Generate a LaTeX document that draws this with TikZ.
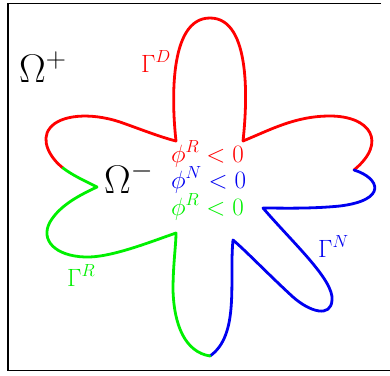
\RequirePackage{fix-cm}
\documentclass[tikz,border=0pt]{standalone}
\definecolor{cred}{RGB}{255,0,0}
\definecolor{cgreen}{RGB}{0,240,0}
\definecolor{cblue}{RGB}{0,0,240}
\tikzset{
  bnd/.style={line width=2.8pt, line join=round, line cap=round},
  lab/.style={inner sep=0pt, anchor=base west, font=\fontsize{25}{30}\selectfont},
  biglab/.style={inner sep=0pt, anchor=base west, font=\fontsize{40}{46}\selectfont},
  frame/.style={line width=1.1pt}
}
\begin{document}
\begin{tikzpicture}[x=1pt,y=-1pt]
\useasboundingbox (0,0) rectangle (390,375);
% frame
\coordinate (f1) at (381,3.5);
\coordinate (f2) at (8,3.5);
\coordinate (f3) at (8,370.5);
\coordinate (f4) at (390,370.5);
\draw[frame] (f1) -- (f2) -- (f3) -- (f4);
% junction points
\coordinate (A) at (176,141);
\coordinate (B) at (243,141);
\coordinate (C) at (354,170);
\coordinate (D) at (263,208);
\coordinate (E) at (233,240);
\coordinate (G) at (210,356);
\coordinate (F) at (176,233);
\coordinate (H) at (97,187);
\coordinate (I) at (63,168);
% red part
\draw[bnd, cred] (I) .. controls (50,158) and (40,140) .. (50,128)
  .. controls (60,115) and (90,112) .. (120,122)
  .. controls (140,129) and (160,137) .. (A)
  .. controls (172,105) and (168,18) .. (210,18)
  .. controls (252,18) and (247,105) .. (B)
  .. controls (270,130) and (295,116) .. (330,116)
  .. controls (370,116) and (388,142) .. (C);
% blue part
\draw[bnd, cblue] (C) .. controls (380,178) and (388,200) .. (340,206)
  .. controls (310,209) and (280,208) .. (D)
  .. controls (293,243) and (334,280) .. (332,300)
  .. controls (331,318) and (310,312) .. (293,297)
  .. controls (270,276) and (245,250) .. (E)
  .. controls (229,280) and (240,335) .. (G);
% green part
\draw[bnd, cgreen] (G) .. controls (185,352) and (174,325) .. (173,290)
  .. controls (173,265) and (176,245) .. (F)
  .. controls (150,242) and (110,258) .. (85,257)
  .. controls (55,256) and (40,240) .. (50,222)
  .. controls (60,205) and (80,195) .. (H)
  .. controls (85,181) and (72,175) .. (I);
% labels
\node[biglab] (op) at (19,82) {$\Omega^+$};
\node[biglab] (om) at (104,193) {$\Omega^-$};
\node[lab, text=cred] (gd) at (141,72) {$\Gamma^D$};
\node[lab, text=cgreen] (gr) at (67,286) {$\Gamma^R$};
\node[lab, text=cblue] (gn) at (318,257) {$\Gamma^N$};
\node[lab, text=cred] (p1) at (171,162) {$\phi^R<0$};
\node[lab, text=cblue] (p2) at (171,188) {$\phi^N<0$};
\node[lab, text=cgreen] (p3) at (171,215) {$\phi^R<0$};
\end{tikzpicture}
\end{document}
